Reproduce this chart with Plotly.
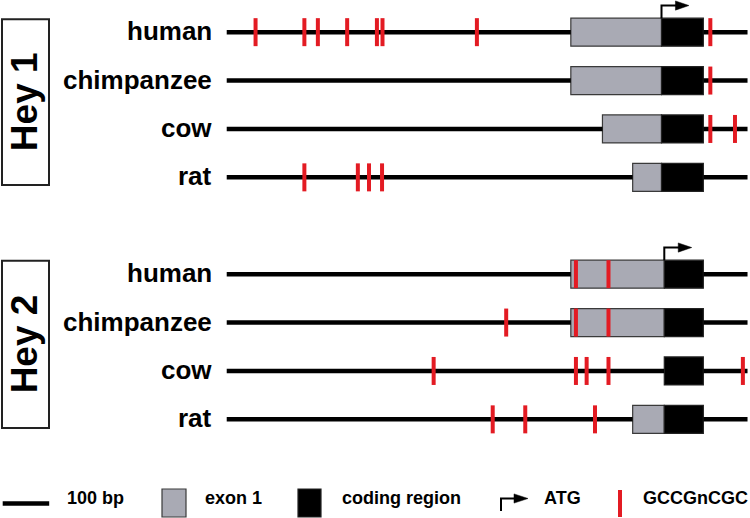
import plotly.graph_objects as go

# ---------------- data (bp relative to the Hey1 ATG) ----------------
species = ["human", "chimpanzee", "cow", "rat"]
genes = ["Hey 1", "Hey 2"]
gene_rows = {"Hey 1": [0, 1, 2, 3], "Hey 2": [5, 6, 7, 8]}

line_start = -935
line_end = 185
coding_end = 90
atg_pos = {"Hey 1": 0, "Hey 2": 6}
exon1_start = {"Hey 1": [-195, -195, -127, -62],
               "Hey 2": [-195, -195, None, -62]}
gccg_sites = {
    "Hey 1": [[-873, -768, -739, -676, -612, -600, -397, 105],
              [105],
              [105, 158],
              [-768, -653, -629, -601]],
    "Hey 2": [[-184, -114],
              [-334, -184, -114],
              [-490, -184, -161, -114, 175],
              [-363, -293, -143]],
}
scale_bp = 100
legend_labels = ["100 bp", "exon 1", "coding region", "ATG", "GCCGnCGC"]

# ---------------- styling / helpers ----------------
FONT = "Liberation Sans, Arial, sans-serif"
GREY = "#A9AAB4"
RED = "#E31B23"
PX_PER_BP = 0.465
X0_PX = 661.5
ROW0_PX = 32.16
ROW_PX = 48.4
W, H = 750, 518


def bp(px):
    return (px - X0_PX) / PX_PER_BP


def rw(py):
    return (py - ROW0_PX) / ROW_PX


BOX_H = 28 / ROW_PX
MARK_SIZE = 28 / 1.4  # line-ns symbol length is 1.4 * size

fig = go.Figure()

# backbone lines (broken where boxes are)
for g in genes:
    for i, r in enumerate(gene_rows[g]):
        s = exon1_start[g][i]
        left = s if s is not None else atg_pos[g]
        fig.add_trace(go.Scatter(
            x=[line_start, left, None, coding_end, line_end],
            y=[r, r, None, r, r], mode="lines",
            line=dict(color="black", width=4.5), hoverinfo="skip"))

# exon 1 (grey) boxes and coding regions
for g in genes:
    ys, xs, bs = [], [], []
    for i, r in enumerate(gene_rows[g]):
        s = exon1_start[g][i]
        if s is None:
            continue
        ys.append(r); bs.append(s); xs.append(atg_pos[g] - s)
    fig.add_trace(go.Bar(orientation="h", y=ys, x=xs, base=bs, width=BOX_H,
                         marker=dict(color=GREY, line=dict(color="#3a3a3a", width=1.2))))
    rr = gene_rows[g]
    fig.add_trace(go.Bar(orientation="h", y=rr, x=[coding_end - atg_pos[g]] * len(rr),
                         base=[atg_pos[g]] * len(rr), width=BOX_H,
                         marker=dict(color="black", line=dict(color="#222", width=1.2))))

# GCCGnCGC sites
for g in genes:
    xs, ys = [], []
    for i, r in enumerate(gene_rows[g]):
        for v in gccg_sites[g][i]:
            xs.append(v); ys.append(r)
    fig.add_trace(go.Scatter(x=xs, y=ys, mode="markers",
                             marker=dict(symbol="line-ns", size=MARK_SIZE,
                                         line=dict(color=RED, width=4))))


def arrow(x, y_base, y_top, x_head0, x_tip, half):
    fig.add_trace(go.Scatter(x=[x, x, x_head0 + 2], y=[y_base, y_top, y_top], mode="lines",
                             line=dict(color="black", width=2)))
    fig.add_trace(go.Scatter(x=[x_head0, x_tip, x_head0, x_head0],
                             y=[y_top - half, y_top, y_top + half, y_top - half],
                             mode="lines", fill="toself", fillcolor="black",
                             line=dict(color="black", width=0.5)))


# ATG arrows on human rows
for g in genes:
    r = gene_rows[g][0]
    a = atg_pos[g]
    arrow(a, r - BOX_H / 2, r - 0.55, a + 30, a + 59, 0.095)

# ---------------- legend ----------------
ly = rw(503.5)
fig.add_trace(go.Scatter(x=[bp(2.7), bp(2.7) + scale_bp], y=[ly, ly], mode="lines",
                         line=dict(color="black", width=4.5)))
fig.add_shape(type="rect", x0=bp(162), x1=bp(186), y0=rw(489), y1=rw(517),
              fillcolor=GREY, line=dict(color="#3a3a3a", width=1.2))
fig.add_shape(type="rect", x0=bp(298), x1=bp(321), y0=rw(489), y1=rw(517),
              fillcolor="black", line=dict(color="#222", width=1.2))
arrow(bp(501), rw(511), rw(498.5), bp(514), bp(528), 0.095)
fig.add_trace(go.Scatter(x=[bp(620)], y=[ly], mode="markers",
                         marker=dict(symbol="line-ns", size=27 / 1.4,
                                     line=dict(color=RED, width=4))))
for lab, px in zip(legend_labels, [65, 203, 340, 541.7, 641]):
    fig.add_annotation(x=bp(px), y=rw(498), text=f"<b>{lab}</b>", showarrow=False,
                       xanchor="left", yanchor="middle",
                       font=dict(family=FONT, size=18, color="black"))

# species labels
for g in genes:
    for sp, r in zip(species, gene_rows[g]):
        fig.add_annotation(x=bp(214), y=r - 0.02, text=f"<b>{sp}</b>", showarrow=False,
                           xanchor="right", yanchor="middle",
                           font=dict(family=FONT, size=26, color="black"))

# gene boxes
for g, (top, bot) in zip(genes, [(19.3, 185), (260.7, 428)]):
    fig.add_shape(type="rect", x0=bp(2), x1=bp(49), y0=rw(top), y1=rw(bot),
                  line=dict(color="#222", width=2), fillcolor="white", layer="below")
    fig.add_annotation(x=bp(24), y=rw((top + bot) / 2), text=f"<b>{g}</b>", showarrow=False,
                       textangle=-90, xanchor="center", yanchor="middle",
                       font=dict(family=FONT, size=37, color="black"))

fig.update_layout(
    width=W, height=H, margin=dict(l=0, r=0, t=0, b=0),
    paper_bgcolor="white", plot_bgcolor="white", showlegend=False,
    barmode="overlay",
    xaxis=dict(range=[bp(0), bp(W)], visible=False, fixedrange=True),
    yaxis=dict(range=[rw(H), rw(0)], visible=False, fixedrange=True),
)
fig.write_html("out.html", config={"displayModeBar": False},
               post_script="document.body.style.margin='0';document.body.style.overflow='hidden';")
